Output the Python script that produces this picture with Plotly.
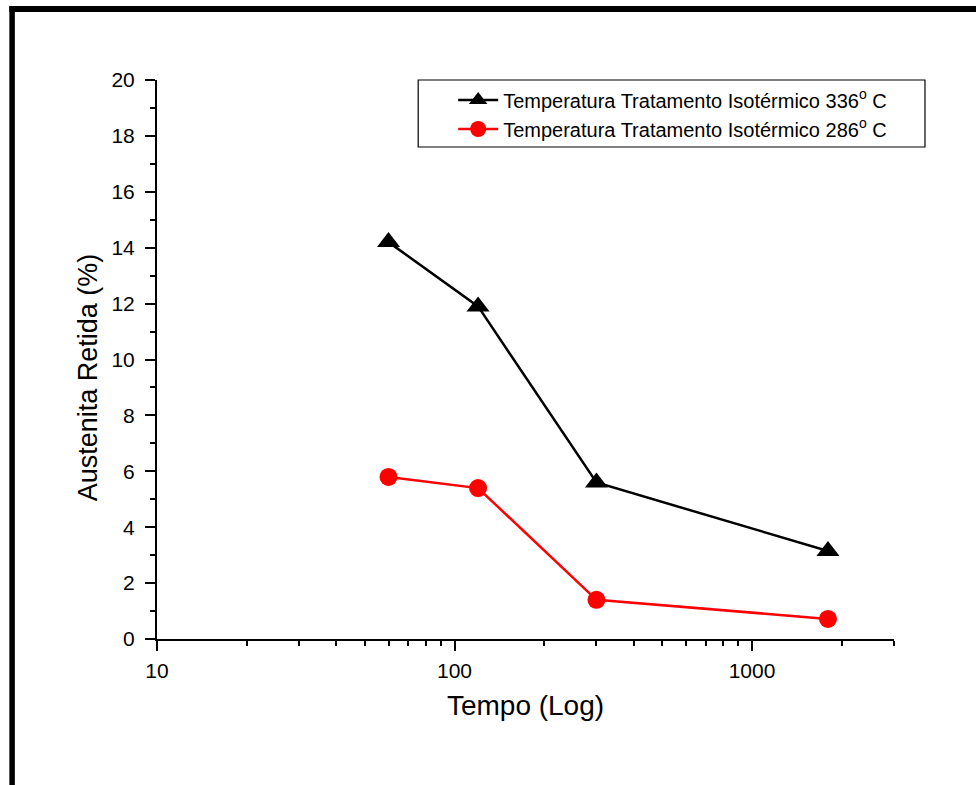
import plotly.graph_objects as go

# Retained austenite vs. isothermal treatment time
tempo = [60, 120, 300, 1800]
austenita_336 = [14.2, 11.9, 5.6, 3.15]
austenita_286 = [5.8, 5.4, 1.4, 0.72]

nome_336 = "Temperatura Tratamento Isotérmico 336<sup>o</sup> C"
nome_286 = "Temperatura Tratamento Isotérmico 286<sup>o</sup> C"

x_ticks = [10, 100, 1000]
x_ticktext = ["10", "100", "1000"]
y_ticks = [0, 2, 4, 6, 8, 10, 12, 14, 16, 18, 20]

FONT = "Arial, 'Liberation Sans', Helvetica, sans-serif"

W, H = 976, 785
L, R, T, B = 156.7, 82, 80, 146
pw, ph = W - L - R, H - T - B


def px_x(x):
    return (x - L) / pw


def px_y(y):
    return (H - B - y) / ph


fig = go.Figure()
fig.add_trace(go.Scatter(
    x=tempo, y=austenita_336, name=nome_336, mode="lines+markers",
    line=dict(color="black", width=2.5),
    marker=dict(symbol="triangle-up", size=20, color="black"),
))
fig.add_trace(go.Scatter(
    x=tempo, y=austenita_286, name=nome_286, mode="lines+markers",
    line=dict(color="#ff0000", width=2.5),
    marker=dict(symbol="circle", size=18, color="#ff0000"),
))

axis_common = dict(
    showgrid=False, zeroline=False, showline=True, linecolor="black",
    linewidth=2, ticks="outside", ticklen=10, tickwidth=2, tickcolor="black",
    tickfont=dict(family=FONT, size=21, color="black"),
    mirror=False,
)

fig.update_xaxes(
    type="log", range=[1, 3.4772],
    tickvals=x_ticks, ticktext=x_ticktext,
    minor=dict(ticks="outside", ticklen=5, tickwidth=2, tickcolor="black",
               dtick="D1", showgrid=False),
    title=dict(text="Tempo (Log)", font=dict(family=FONT, size=28, color="black"),
               standoff=14),
    ticklabelstandoff=2,
    **axis_common,
)
fig.update_yaxes(
    range=[0, 20], tickvals=y_ticks,
    minor=dict(ticks="outside", ticklen=5, tickwidth=2, tickcolor="black",
               dtick=1, showgrid=False),
    ticklabelstandoff=6,
    **axis_common,
)

# Y-axis title, placed a little below the axis midpoint
fig.add_annotation(
    text="Austenita Retida (%)", textangle=-90,
    xref="paper", yref="paper", x=px_x(88), y=px_y(377),
    xanchor="center", yanchor="middle", showarrow=False,
    font=dict(family=FONT, size=27, color="black"),
)

# Frame lines around the figure (left and top) and the legend box
shapes = [
    dict(type="rect", xref="paper", yref="paper",
         x0=px_x(9), x1=px_x(14.5), y0=px_y(H + 5), y1=px_y(6),
         fillcolor="black", line=dict(width=0), layer="above"),
    dict(type="rect", xref="paper", yref="paper",
         x0=px_x(9), x1=px_x(W + 5), y0=px_y(12), y1=px_y(6),
         fillcolor="black", line=dict(width=0), layer="above"),
    dict(type="rect", xref="paper", yref="paper",
         x0=px_x(418), x1=px_x(925), y0=px_y(147), y1=px_y(80),
         fillcolor="rgba(0,0,0,0)", line=dict(color="black", width=1.2),
         layer="above"),
]

fig.update_layout(
    width=W, height=H,
    margin=dict(l=L, r=R, t=T, b=B),
    paper_bgcolor="white", plot_bgcolor="white",
    font=dict(family=FONT, color="black"),
    showlegend=True,
    legend=dict(
        x=px_x(453), y=px_y(80.5), xanchor="left", yanchor="top",
        bgcolor="rgba(0,0,0,0)", borderwidth=0,
        font=dict(family=FONT, size=20, color="black"),
        itemwidth=40, tracegroupgap=0,
    ),
    shapes=shapes,
)

fig.write_html("out.html")
